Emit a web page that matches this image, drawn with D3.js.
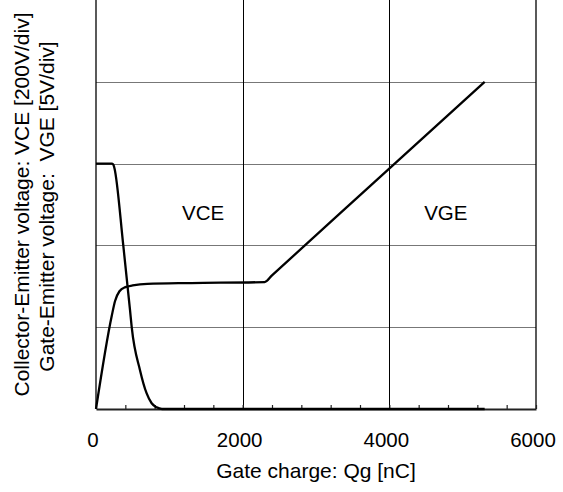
<!DOCTYPE html>
<html>
<head>
<meta charset="utf-8">
<script src="https://cdn.jsdelivr.net/npm/d3@7"></script>
<style>
  body { margin: 0; background: #fff; }
  svg { display: block; }
  text { font-family: Arial, "Liberation Sans", sans-serif; fill: #000; }
</style>
</head>
<body>
<div id="chart"></div>
<script>
/* Data: gate charge in nC, voltages in V */
let vceQg = [0, 215, 235, 250, 372, 464, 487, 600, 691, 759, 827, 900, 5300];
let vceVal = [600, 600, 598, 590, 400, 242, 200, 95, 38, 14, 4, 0, 0];

let vgeQg = [0, 215, 260, 320, 400, 500, 700, 1300, 2300, 2400, 3800, 5300];
let vgeVal = [0, 5.7, 6.6, 7.2, 7.45, 7.55, 7.65, 7.7, 7.76, 8.17, 13.88, 20];

let xTicks = [0, 2000, 4000, 6000];
let xMinorTicks = d3.range(0, 6001, 400);
let vceGrid = [200, 400, 600, 800];
let curveLabels = [{name: "VCE", q: 1460, v: 480}, {name: "VGE", q: 4770, v: 480}];

/* Dimensions */
let width = 563;
let height = 492;
let margin = {top: 0, bottom: 83, right: 27, left: 96};
let pWidth = width - margin.left - margin.right;
let pHeight = 409 - margin.top;

let svg = d3.select("#chart")
            .append("svg")
              .attr("width", width)
              .attr("height", height);

let xScale = d3.scaleLinear()
               .domain([0, 6000])
               .range([margin.left, margin.left + pWidth]);

// VCE is 200V/div and VGE 5V/div over the same five divisions
let yVce = d3.scaleLinear()
             .domain([0, 1000])
             .range([409, margin.top]);

let yVge = d3.scaleLinear()
             .domain([0, 25])
             .range([409, margin.top]);

// horizontal grid (grey)
svg.append("g")
   .selectAll("line")
   .data(vceGrid)
   .enter()
   .append("line")
     .attr("x1", xScale(0))
     .attr("x2", xScale(6000))
     .attr("y1", d => Math.round(yVce(d)) + 0.5)
     .attr("y2", d => Math.round(yVce(d)) + 0.5)
     .attr("stroke", "#777")
     .attr("stroke-width", 1.2);

// vertical grid (black) at the major ticks
svg.append("g")
   .selectAll("line")
   .data(xTicks.slice(1, 3))
   .enter()
   .append("line")
     .attr("x1", d => Math.round(xScale(d)) + 0.5)
     .attr("x2", d => Math.round(xScale(d)) + 0.5)
     .attr("y1", yVce(1000))
     .attr("y2", yVce(0))
     .attr("stroke", "#000")
     .attr("stroke-width", 1);

// left and right borders
svg.append("line")
   .attr("x1", xScale(0)).attr("x2", xScale(0))
   .attr("y1", yVce(1000)).attr("y2", yVce(0))
   .attr("stroke", "#000").attr("stroke-width", 1.3);

svg.append("line")
   .attr("x1", xScale(6000)).attr("x2", xScale(6000))
   .attr("y1", yVce(1000)).attr("y2", yVce(0))
   .attr("stroke", "#000").attr("stroke-width", 1.3);

// bottom axis with inward minor ticks
let xAxis = svg.append("g")
               .attr("transform", `translate(0, ${yVce(0)})`)
               .call(d3.axisBottom(xScale)
                       .tickValues(xMinorTicks)
                       .tickSize(-4)
                       .tickSizeOuter(0)
                       .tickFormat(""));

xAxis.select(".domain").attr("stroke", "#222").attr("stroke-width", 2);
xAxis.selectAll(".tick line").attr("stroke", "#222").attr("stroke-width", 1.2);

// tick labels
svg.append("g")
   .selectAll("text")
   .data(xTicks)
   .enter()
   .append("text")
     .attr("x", d => xScale(d) - 3)
     .attr("y", 446.5)
     .attr("text-anchor", "middle")
     .style("font-size", "20.5px")
     .text(d => d);

// curves
let vceLine = d3.line()
                .x(d => xScale(d[0]))
                .y(d => yVce(d[1]))
                .curve(d3.curveMonotoneX);

let vgeLine = d3.line()
                .x(d => xScale(d[0]))
                .y(d => yVge(d[1]))
                .curve(d3.curveMonotoneX);

svg.append("path")
   .datum(d3.zip(vceQg, vceVal))
   .attr("d", vceLine)
   .attr("fill", "none")
   .attr("stroke", "#000")
   .attr("stroke-width", 2.3);

svg.append("path")
   .datum(d3.zip(vgeQg, vgeVal))
   .attr("d", vgeLine)
   .attr("fill", "none")
   .attr("stroke", "#000")
   .attr("stroke-width", 2.3);

// curve labels
svg.append("g")
   .selectAll("text")
   .data(curveLabels)
   .enter()
   .append("text")
     .attr("x", d => xScale(d.q))
     .attr("y", d => yVce(d.v) + 7)
     .attr("text-anchor", "middle")
     .style("font-size", "20.5px")
     .text(d => d.name);

// axis titles
svg.append("text")
   .attr("x", xScale(3000))
   .attr("y", 478)
   .attr("text-anchor", "middle")
   .style("font-size", "21px")
   .text("Gate charge: Qg [nC]");

let yMid = yVce(500);

svg.append("text")
   .attr("transform", `translate(28.5, ${yMid}) rotate(-90)`)
   .attr("text-anchor", "middle")
   .style("font-size", "21px")
   .text("Collector-Emitter voltage: VCE [200V/div]");

svg.append("text")
   .attr("transform", `translate(53.5, ${yMid + 2}) rotate(-90)`)
   .attr("text-anchor", "middle")
   .attr("xml:space", "preserve")
   .style("font-size", "21px")
   .style("white-space", "pre")
   .text("Gate-Emitter voltage:  VGE [5V/div]");
</script>
</body>
</html>
